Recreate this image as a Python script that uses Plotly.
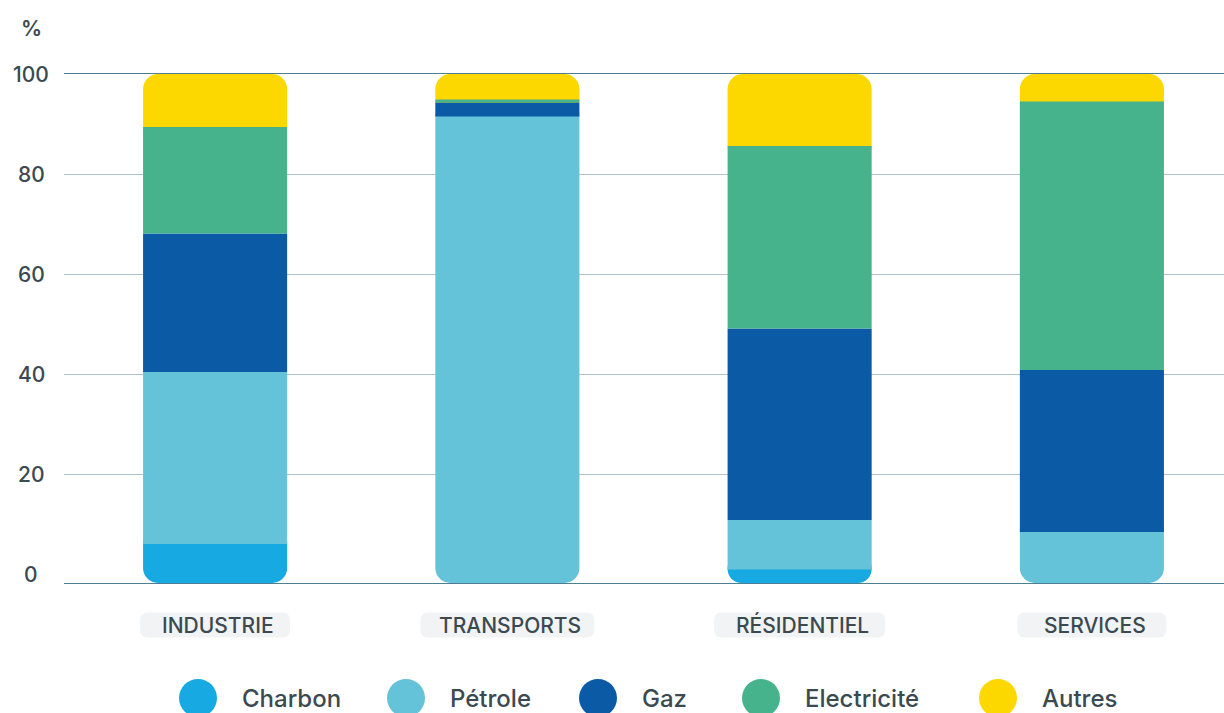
import plotly.graph_objects as go

# ---------------- data ----------------
categories = ["INDUSTRIE", "TRANSPORTS", "RÉSIDENTIEL", "SERVICES"]
series_names = ["Charbon", "Pétrole", "Gaz", "Electricité", "Autres"]
charbon = [6.0, 0.0, 0.9, 0.0]
petrole = [34.4, 91.5, 9.9, 8.4]
gaz = [27.7, 2.8, 38.3, 32.4]
electricite = [21.3, 0.6, 36.5, 53.7]
autres = [10.6, 5.1, 14.4, 5.5]
y_tick_values = [0, 20, 40, 60, 80, 100]
y_tick_labels = ["0", "20", "40", "60", "80", "100"]
y_unit_label = "%"

# ---------------- styles ----------------
series_values = [charbon, petrole, gaz, electricite, autres]
colors = ["#17a9e1", "#64c3d8", "#0a5aa6", "#47b38d", "#fdd700"]
TEXT = "#3b4a51"
FONT = "Inter"
W, H = 1224, 713
ML, MR, MT, MB = 64, 0, 74, 130
PW, PH = W - ML - MR, H - MT - MB
Y_MIN = -1.8
Y_MAX = 100
X_RANGE = [-0.517, 3.452]
RADIUS = 15
EXT = RADIUS * (Y_MAX - Y_MIN) / PH + 0.1   # overlap hidden under neighbours
BAR_W = 0.493
pill_widths = [150, 174, 171, 149]
pill_h = 25
pill_cy_px = 625
legend_cx_px = [198, 406, 598, 761, 998]
legend_cy_px = 698


def px_x(px):
    return (px - ML) / PW


def px_y(py):
    return (H - MB - py) / PH


def cat_px(ci):
    return ML + (ci - X_RANGE[0]) / (X_RANGE[1] - X_RANGE[0]) * PW


fig = go.Figure()

# build segments; draw order: bottom (rounded), top (rounded), mid (square, on top)
groups = {"bottom": {}, "top": {}, "mid": {}}
for ci, cat in enumerate(categories):
    nz = [si for si, vals in enumerate(series_values) if vals[ci] > 0]
    running = 0.0
    for si, vals in enumerate(series_values):
        v = vals[ci]
        if v <= 0:
            continue
        start, end = running, running + v
        running = end
        if si == nz[0]:
            role, lo, hi = "bottom", Y_MIN, end + EXT
        elif si == nz[-1]:
            role, lo, hi = "top", start - EXT, end
        else:
            role, lo, hi = "mid", start, end
        d = groups[role].setdefault(si, {"x": [], "base": [], "y": []})
        d["x"].append(cat)
        d["base"].append(lo)
        d["y"].append(hi - lo)

for role in ["bottom", "top", "mid"]:
    for si, d in groups[role].items():
        fig.add_trace(go.Bar(
            x=d["x"], y=d["y"], base=d["base"],
            width=BAR_W, name=series_names[si], showlegend=False,
            marker=dict(color=colors[si], line=dict(width=0),
                        cornerradius=(0 if role == "mid" else RADIUS)),
            hoverinfo="skip",
        ))

annotations = []
shapes = []
# y tick labels (centered)
for v, lab in zip(y_tick_values, y_tick_labels):
    annotations.append(dict(x=px_x(31), y=v, xref="paper", yref="y", text=lab,
                            showarrow=False, xanchor="center", yanchor="middle",
                            font=dict(size=21, color=TEXT, family=FONT, weight=500)))
annotations.append(dict(x=px_x(31), y=px_y(28), xref="paper", yref="paper", text=y_unit_label,
                        showarrow=False, xanchor="center", yanchor="middle",
                        font=dict(size=21, color=TEXT, family=FONT, weight=600)))

# category pills (rounded background) + labels
for ci, (cat, pw) in enumerate(zip(categories, pill_widths)):
    cx = cat_px(ci)
    x0, x1 = cx - pw / 2, cx + pw / 2
    y0, y1 = pill_cy_px - pill_h / 2, pill_cy_px + pill_h / 2
    r = 8
    pts = [
        f"M {px_x(x0 + r)},{px_y(y0)}",
        f"L {px_x(x1 - r)},{px_y(y0)}",
        f"Q {px_x(x1)},{px_y(y0)} {px_x(x1)},{px_y(y0 + r)}",
        f"L {px_x(x1)},{px_y(y1 - r)}",
        f"Q {px_x(x1)},{px_y(y1)} {px_x(x1 - r)},{px_y(y1)}",
        f"L {px_x(x0 + r)},{px_y(y1)}",
        f"Q {px_x(x0)},{px_y(y1)} {px_x(x0)},{px_y(y1 - r)}",
        f"L {px_x(x0)},{px_y(y0 + r)}",
        f"Q {px_x(x0)},{px_y(y0)} {px_x(x0 + r)},{px_y(y0)} Z",
    ]
    shapes.append(dict(type="path", xref="paper", yref="paper", path=" ".join(pts),
                       fillcolor="#f2f3f4", line=dict(width=0), layer="below"))
    annotations.append(dict(x=cat, y=px_y(pill_cy_px), xref="x", yref="paper", text=cat,
                            showarrow=False, xanchor="center", yanchor="middle",
                            xshift=3,
                            font=dict(size=21, color=TEXT, family=FONT, weight=500)))

# legend: big circles + labels
for name, col, cx in zip(series_names, colors, legend_cx_px):
    shapes.append(dict(type="circle", xref="paper", yref="paper",
                       xsizemode="pixel", ysizemode="pixel",
                       xanchor=px_x(cx), yanchor=px_y(legend_cy_px),
                       x0=-19, x1=19, y0=-19, y1=19,
                       fillcolor=col, line=dict(width=0)))
    annotations.append(dict(x=px_x(cx + 42), y=px_y(legend_cy_px), xref="paper", yref="paper",
                            text=name, showarrow=False, xanchor="left", yanchor="middle",
                            font=dict(size=24, color=TEXT, family=FONT, weight=500)))

fig.update_layout(
    width=W, height=H,
    margin=dict(l=ML, r=MR, t=MT, b=MB),
    paper_bgcolor="white", plot_bgcolor="white",
    barmode="overlay",
    showlegend=False,
    annotations=annotations,
    shapes=shapes,
    font=dict(family=FONT, color=TEXT),
)
fig.update_xaxes(type="category", categoryorder="array", categoryarray=categories,
                 range=X_RANGE, showgrid=False, showticklabels=False,
                 showline=True, mirror=True, linecolor="#4e7e93", linewidth=1.3,
                 zeroline=False, ticks="")
fig.update_yaxes(range=[Y_MIN, Y_MAX], tickvals=y_tick_values[1:], showticklabels=False,
                 showgrid=True, gridcolor="#aec3cb", gridwidth=1.2, zeroline=False,
                 showline=False, ticks="")

fig.write_html("out.html")
